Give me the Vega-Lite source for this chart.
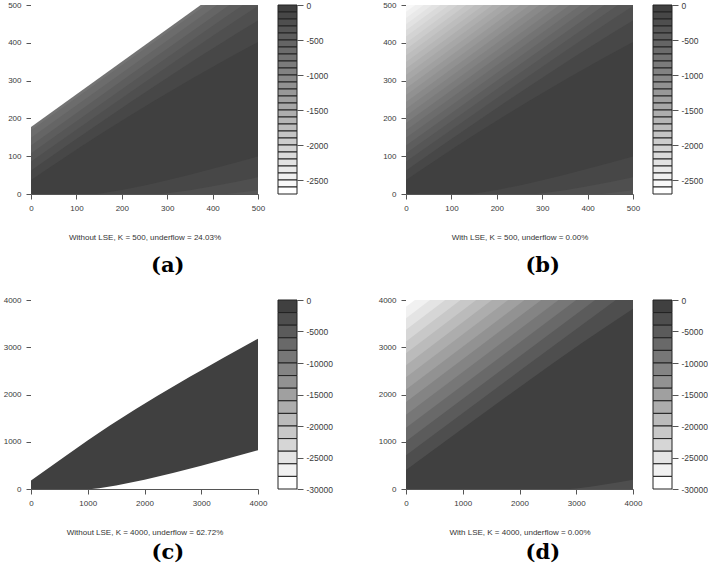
{
"$schema": "https://vega.github.io/schema/vega-lite/v6.json",
"padding": {"left": 3, "top": 1, "right": 0, "bottom": 2},
"background": "white",
"datasets": {
"k500": [
{"t":"u","lv":-100,"x":0,"y":0},{"t":"u","lv":-100,"x":500,"y":0},
{"t":"u","lv":-200,"x":0,"y":37},{"t":"u","lv":-200,"x":44.1,"y":72.7},{"t":"u","lv":-200,"x":112.2,"y":127},{"t":"u","lv":-200,"x":153.1,"y":158.8},{"t":"u","lv":-200,"x":211,"y":202.6},{"t":"u","lv":-200,"x":273.3,"y":248.2},{"t":"u","lv":-200,"x":356.7,"y":306.9},{"t":"u","lv":-200,"x":436.7,"y":361.4},{"t":"u","lv":-200,"x":500,"y":402},
{"t":"u","lv":-300,"x":0,"y":62.5},{"t":"u","lv":-300,"x":84.5,"y":132.9},{"t":"u","lv":-300,"x":153,"y":189.3},{"t":"u","lv":-300,"x":225.1,"y":248},{"t":"u","lv":-300,"x":310.2,"y":315.8},{"t":"u","lv":-300,"x":368.4,"y":361.1},{"t":"u","lv":-300,"x":462.4,"y":432.2},{"t":"u","lv":-300,"x":500,"y":459},
{"t":"u","lv":-400,"x":0,"y":85.7},{"t":"u","lv":-400,"x":75.5,"y":149.5},{"t":"u","lv":-400,"x":181.3,"y":238.3},{"t":"u","lv":-400,"x":251.9,"y":297},{"t":"u","lv":-400,"x":325.6,"y":357.8},{"t":"u","lv":-400,"x":406.1,"y":423.2},{"t":"u","lv":-400,"x":456.7,"y":463.8},{"t":"u","lv":-400,"x":500,"y":497.6},
{"t":"u","lv":-500,"x":0,"y":107.6},{"t":"u","lv":-500,"x":55.3,"y":154.8},{"t":"u","lv":-500,"x":235.9,"y":307.8},{"t":"u","lv":-500,"x":345.5,"y":399.8},{"t":"u","lv":-500,"x":419.3,"y":461.2},{"t":"u","lv":-500,"x":466.8,"y":500},
{"t":"u","lv":-600,"x":0,"y":128.5},{"t":"u","lv":-600,"x":212.1,"y":310},{"t":"u","lv":-600,"x":436.8,"y":500},
{"t":"u","lv":-700,"x":0,"y":148.8},{"t":"u","lv":-700,"x":409.9,"y":500},
{"t":"u","lv":-800,"x":0,"y":168.5},{"t":"u","lv":-800,"x":384.8,"y":500},
{"t":"u","lv":-900,"x":0,"y":187.8},{"t":"u","lv":-900,"x":360.8,"y":500},
{"t":"u","lv":-1000,"x":0,"y":206.7},{"t":"u","lv":-1000,"x":338,"y":500},
{"t":"u","lv":-1100,"x":0,"y":225.3},{"t":"u","lv":-1100,"x":315.8,"y":500},
{"t":"u","lv":-1200,"x":0,"y":243.6},{"t":"u","lv":-1200,"x":293.9,"y":500},
{"t":"u","lv":-1300,"x":0,"y":261.7},{"t":"u","lv":-1300,"x":272.7,"y":500},
{"t":"u","lv":-1400,"x":0,"y":279.6},{"t":"u","lv":-1400,"x":251.5,"y":500},
{"t":"u","lv":-1500,"x":0,"y":297.2},{"t":"u","lv":-1500,"x":231.2,"y":500},
{"t":"u","lv":-1600,"x":0,"y":314.7},{"t":"u","lv":-1600,"x":210.9,"y":500},
{"t":"u","lv":-1700,"x":0,"y":332},{"t":"u","lv":-1700,"x":191,"y":500},
{"t":"u","lv":-1800,"x":0,"y":349.1},{"t":"u","lv":-1800,"x":171.4,"y":500},
{"t":"u","lv":-1900,"x":0,"y":366.1},{"t":"u","lv":-1900,"x":151.8,"y":500},
{"t":"u","lv":-2000,"x":0,"y":383},{"t":"u","lv":-2000,"x":132.6,"y":500},
{"t":"u","lv":-2100,"x":0,"y":399.7},{"t":"u","lv":-2100,"x":113.5,"y":500},
{"t":"u","lv":-2200,"x":0,"y":416.4},{"t":"u","lv":-2200,"x":94.6,"y":500},
{"t":"u","lv":-2300,"x":0,"y":432.9},{"t":"u","lv":-2300,"x":75.9,"y":500},
{"t":"u","lv":-2400,"x":0,"y":449.3},{"t":"u","lv":-2400,"x":57.3,"y":500},
{"t":"u","lv":-2500,"x":0,"y":465.7},{"t":"u","lv":-2500,"x":38.8,"y":500},
{"t":"u","lv":-2600,"x":0,"y":481.9},{"t":"u","lv":-2600,"x":20.6,"y":500},
{"t":"u","lv":-2700,"x":0,"y":498},{"t":"u","lv":-2700,"x":2.3,"y":500},
{"t":"d","lv":-200,"x":142.8,"y":0},{"t":"d","lv":-200,"x":160,"y":2.7},{"t":"d","lv":-200,"x":200,"y":10.7},{"t":"d","lv":-200,"x":250,"y":22.8},{"t":"d","lv":-200,"x":300,"y":36.5},{"t":"d","lv":-200,"x":350,"y":51.1},{"t":"d","lv":-200,"x":400,"y":66.7},{"t":"d","lv":-200,"x":450,"y":82.8},{"t":"d","lv":-200,"x":500,"y":99.5},
{"t":"d","lv":-300,"x":285.7,"y":0},{"t":"d","lv":-300,"x":300,"y":1.8},{"t":"d","lv":-300,"x":350,"y":10},{"t":"d","lv":-300,"x":400,"y":20.3},{"t":"d","lv":-300,"x":450,"y":31.7},{"t":"d","lv":-300,"x":500,"y":44.3},
{"t":"d","lv":-400,"x":430,"y":0},{"t":"d","lv":-400,"x":450,"y":2.4},{"t":"d","lv":-400,"x":500,"y":10.1}
],
"m500": [
{"t":"u","x":0,"y":177.3},{"t":"u","x":373.8,"y":500}
],
"k4000": [
{"t":"u","lv":-2000,"x":0,"y":0},{"t":"u","lv":-2000,"x":4000,"y":0},
{"t":"u","lv":-4000,"x":0,"y":399.7},{"t":"u","lv":-4000,"x":870.8,"y":1167.9},{"t":"u","lv":-4000,"x":1716.2,"y":1907.6},{"t":"u","lv":-4000,"x":2564,"y":2638.6},{"t":"u","lv":-4000,"x":3097.6,"y":3087.5},{"t":"u","lv":-4000,"x":3483.6,"y":3403.2},{"t":"u","lv":-4000,"x":4000,"y":3812.9},
{"t":"u","lv":-6000,"x":0,"y":716.6},{"t":"u","lv":-6000,"x":2044.6,"y":2540.5},{"t":"u","lv":-6000,"x":3696.6,"y":4000},
{"t":"u","lv":-8000,"x":0,"y":1012.6},{"t":"u","lv":-8000,"x":3331.5,"y":4000},
{"t":"u","lv":-10000,"x":0,"y":1296.3},{"t":"u","lv":-10000,"x":2998.4,"y":4000},
{"t":"u","lv":-12000,"x":0,"y":1571.5},{"t":"u","lv":-12000,"x":2687.5,"y":4000},
{"t":"u","lv":-14000,"x":0,"y":1840.3},{"t":"u","lv":-14000,"x":2382.9,"y":4000},
{"t":"u","lv":-16000,"x":0,"y":2103.9},{"t":"u","lv":-16000,"x":2087.5,"y":4000},
{"t":"u","lv":-18000,"x":0,"y":2363.3},{"t":"u","lv":-18000,"x":1799.7,"y":4000},
{"t":"u","lv":-20000,"x":0,"y":2619},{"t":"u","lv":-20000,"x":1514.9,"y":4000},
{"t":"u","lv":-22000,"x":0,"y":2871.6},{"t":"u","lv":-22000,"x":1237.7,"y":4000},
{"t":"u","lv":-24000,"x":0,"y":3121.5},{"t":"u","lv":-24000,"x":961.8,"y":4000},
{"t":"u","lv":-26000,"x":0,"y":3368.8},{"t":"u","lv":-26000,"x":691.3,"y":4000},
{"t":"u","lv":-28000,"x":0,"y":3614},{"t":"u","lv":-28000,"x":421.6,"y":4000},
{"t":"u","lv":-30000,"x":0,"y":3857.2},{"t":"u","lv":-30000,"x":156.2,"y":4000},
{"t":"d","lv":-4000,"x":2884,"y":0},{"t":"d","lv":-4000,"x":3000,"y":13},{"t":"d","lv":-4000,"x":3250,"y":49.7},{"t":"d","lv":-4000,"x":3500,"y":93},{"t":"d","lv":-4000,"x":3750,"y":141.7},{"t":"d","lv":-4000,"x":4000,"y":194}
],
"m4000": [
{"t":"u","x":0,"y":177.3},{"t":"u","x":596.3,"y":690.4},{"t":"u","x":996.8,"y":1027.5},{"t":"u","x":1211.7,"y":1203.3},{"t":"u","x":1389.4,"y":1344.8},{"t":"u","x":1832.8,"y":1683.4},{"t":"u","x":2222,"y":1967.7},{"t":"u","x":2799,"y":2373.8},{"t":"u","x":3051.7,"y":2547.5},{"t":"u","x":3376.6,"y":2767.8},{"t":"u","x":4000,"y":3182},
{"t":"d","x":1073.4,"y":0},{"t":"d","x":1200,"y":17},{"t":"d","x":1500,"y":75},{"t":"d","x":2000,"y":198},{"t":"d","x":2500,"y":338.5},{"t":"d","x":3000,"y":492},{"t":"d","x":3500,"y":653.8},{"t":"d","x":4000,"y":822}
],
"cb500": [
{"lo":-100,"hi":0},{"lo":-200,"hi":-100},{"lo":-300,"hi":-200},{"lo":-400,"hi":-300},{"lo":-500,"hi":-400},{"lo":-600,"hi":-500},{"lo":-700,"hi":-600},{"lo":-800,"hi":-700},{"lo":-900,"hi":-800},{"lo":-1000,"hi":-900},{"lo":-1100,"hi":-1000},{"lo":-1200,"hi":-1100},{"lo":-1300,"hi":-1200},{"lo":-1400,"hi":-1300},{"lo":-1500,"hi":-1400},{"lo":-1600,"hi":-1500},{"lo":-1700,"hi":-1600},{"lo":-1800,"hi":-1700},{"lo":-1900,"hi":-1800},{"lo":-2000,"hi":-1900},{"lo":-2100,"hi":-2000},{"lo":-2200,"hi":-2100},{"lo":-2300,"hi":-2200},{"lo":-2400,"hi":-2300},{"lo":-2500,"hi":-2400},{"lo":-2600,"hi":-2500},{"lo":-2700,"hi":-2600}
],
"cb4000": [
{"lo":-2000,"hi":0},{"lo":-4000,"hi":-2000},{"lo":-6000,"hi":-4000},{"lo":-8000,"hi":-6000},{"lo":-10000,"hi":-8000},{"lo":-12000,"hi":-10000},{"lo":-14000,"hi":-12000},{"lo":-16000,"hi":-14000},{"lo":-18000,"hi":-16000},{"lo":-20000,"hi":-18000},{"lo":-22000,"hi":-20000},{"lo":-24000,"hi":-22000},{"lo":-26000,"hi":-24000},{"lo":-28000,"hi":-26000},{"lo":-30000,"hi":-28000}
]
},
"vconcat": [
{
"hconcat": [
{
"title": {"text": "(a)", "orient": "bottom", "anchor": "middle", "offset": 14},
"hconcat": [
{
"width": 227, "height": 189,
"encoding": {
"x": {"field": "x", "type": "quantitative", "scale": {"domain": [0, 500], "nice": false, "zero": false}, "axis": {"values": [0, 100, 200, 300, 400, 500], "format": "d", "title": "Without LSE, K = 500, underflow = 24.03%", "titlePadding": 21}},
"y": {"field": "y", "type": "quantitative", "scale": {"domain": [0, 500], "nice": false, "zero": false}, "axis": {"values": [0, 100, 200, 300, 400, 500], "format": "d", "title": null}}
},
"layer": [
{"data": {"name": "k500"}, "transform": [{"filter": "datum.t == 'u'"}], "mark": {"type": "area", "clip": true}, "encoding": {"y2": {"datum": 500}, "color": {"field": "lv", "type": "ordinal", "legend": null, "scale": {"domain": [-100,-200,-300,-400,-500,-600,-700,-800,-900,-1000,-1100,-1200,-1300,-1400,-1500,-1600,-1700,-1800,-1900,-2000,-2100,-2200,-2300,-2400,-2500,-2600,-2700], "range": ["#404040","#474747","#4f4f4f","#565656","#5d5d5d","#656565","#6c6c6c","#737373","#7b7b7b","#828282","#898989","#919191","#989898","#a0a0a0","#a7a7a7","#aeaeae","#b6b6b6","#bdbdbd","#c4c4c4","#cccccc","#d3d3d3","#dadada","#e2e2e2","#e9e9e9","#f0f0f0","#f8f8f8","#ffffff"]}}}},
{"data": {"name": "k500"}, "transform": [{"filter": "datum.t == 'd'"}], "mark": {"type": "area", "clip": true}, "encoding": {"y2": {"datum": 0}, "color": {"field": "lv", "type": "ordinal", "legend": null, "scale": {"domain": [-100,-200,-300,-400,-500,-600,-700,-800,-900,-1000,-1100,-1200,-1300,-1400,-1500,-1600,-1700,-1800,-1900,-2000,-2100,-2200,-2300,-2400,-2500,-2600,-2700], "range": ["#404040","#474747","#4f4f4f","#565656","#5d5d5d","#656565","#6c6c6c","#737373","#7b7b7b","#828282","#898989","#919191","#989898","#a0a0a0","#a7a7a7","#aeaeae","#b6b6b6","#bdbdbd","#c4c4c4","#cccccc","#d3d3d3","#dadada","#e2e2e2","#e9e9e9","#f0f0f0","#f8f8f8","#ffffff"]}}}},
{"data": {"name": "m500"}, "transform": [{"filter": "datum.t == 'u'"}], "mark": {"type": "area", "clip": true, "color": "#ffffff"}, "encoding": {"y2": {"datum": 500}}}
]
},
{
"width": 19, "height": 189,
"data": {"name": "cb500"},
"mark": {"type": "rect", "stroke": "#222222", "strokeWidth": 1},
"encoding": {
"x": {"datum": 0, "type": "quantitative", "scale": {"domain": [0, 1]}, "axis": null},
"x2": {"datum": 1},
"y": {"field": "lo", "type": "quantitative", "scale": {"domain": [-2700, 0], "nice": false, "zero": false}, "axis": {"orient": "right", "values": [0, -500, -1000, -1500, -2000, -2500], "title": null, "domain": false, "tickSize": 6, "labelPadding": 3, "labelFontSize": 8.5, "labelExpr": "datum.value == 0 ? '0' : '-' + format(-datum.value, 'd')"}},
"y2": {"field": "hi"},
"color": {"field": "lo", "type": "ordinal", "legend": null, "scale": {"domain": [-100,-200,-300,-400,-500,-600,-700,-800,-900,-1000,-1100,-1200,-1300,-1400,-1500,-1600,-1700,-1800,-1900,-2000,-2100,-2200,-2300,-2400,-2500,-2600,-2700], "range": ["#404040","#474747","#4f4f4f","#565656","#5d5d5d","#656565","#6c6c6c","#737373","#7b7b7b","#828282","#898989","#919191","#989898","#a0a0a0","#a7a7a7","#aeaeae","#b6b6b6","#bdbdbd","#c4c4c4","#cccccc","#d3d3d3","#dadada","#e2e2e2","#e9e9e9","#f0f0f0","#f8f8f8","#ffffff"]}}
}
}
],
"spacing": 20, "bounds": "flush",
"resolve": {"scale": {"x": "independent", "y": "independent", "color": "independent"}}
},
{
"title": {"text": "(b)", "orient": "bottom", "anchor": "middle", "offset": 14},
"hconcat": [
{
"width": 227, "height": 189,
"encoding": {
"x": {"field": "x", "type": "quantitative", "scale": {"domain": [0, 500], "nice": false, "zero": false}, "axis": {"values": [0, 100, 200, 300, 400, 500], "format": "d", "title": "With LSE, K = 500, underflow = 0.00%", "titlePadding": 21}},
"y": {"field": "y", "type": "quantitative", "scale": {"domain": [0, 500], "nice": false, "zero": false}, "axis": {"values": [0, 100, 200, 300, 400, 500], "format": "d", "title": null}}
},
"layer": [
{"data": {"name": "k500"}, "transform": [{"filter": "datum.t == 'u'"}], "mark": {"type": "area", "clip": true}, "encoding": {"y2": {"datum": 500}, "color": {"field": "lv", "type": "ordinal", "legend": null, "scale": {"domain": [-100,-200,-300,-400,-500,-600,-700,-800,-900,-1000,-1100,-1200,-1300,-1400,-1500,-1600,-1700,-1800,-1900,-2000,-2100,-2200,-2300,-2400,-2500,-2600,-2700], "range": ["#404040","#474747","#4f4f4f","#565656","#5d5d5d","#656565","#6c6c6c","#737373","#7b7b7b","#828282","#898989","#919191","#989898","#a0a0a0","#a7a7a7","#aeaeae","#b6b6b6","#bdbdbd","#c4c4c4","#cccccc","#d3d3d3","#dadada","#e2e2e2","#e9e9e9","#f0f0f0","#f8f8f8","#ffffff"]}}}},
{"data": {"name": "k500"}, "transform": [{"filter": "datum.t == 'd'"}], "mark": {"type": "area", "clip": true}, "encoding": {"y2": {"datum": 0}, "color": {"field": "lv", "type": "ordinal", "legend": null, "scale": {"domain": [-100,-200,-300,-400,-500,-600,-700,-800,-900,-1000,-1100,-1200,-1300,-1400,-1500,-1600,-1700,-1800,-1900,-2000,-2100,-2200,-2300,-2400,-2500,-2600,-2700], "range": ["#404040","#474747","#4f4f4f","#565656","#5d5d5d","#656565","#6c6c6c","#737373","#7b7b7b","#828282","#898989","#919191","#989898","#a0a0a0","#a7a7a7","#aeaeae","#b6b6b6","#bdbdbd","#c4c4c4","#cccccc","#d3d3d3","#dadada","#e2e2e2","#e9e9e9","#f0f0f0","#f8f8f8","#ffffff"]}}}}
]
},
{
"width": 19, "height": 189,
"data": {"name": "cb500"},
"mark": {"type": "rect", "stroke": "#222222", "strokeWidth": 1},
"encoding": {
"x": {"datum": 0, "type": "quantitative", "scale": {"domain": [0, 1]}, "axis": null},
"x2": {"datum": 1},
"y": {"field": "lo", "type": "quantitative", "scale": {"domain": [-2700, 0], "nice": false, "zero": false}, "axis": {"orient": "right", "values": [0, -500, -1000, -1500, -2000, -2500], "title": null, "domain": false, "tickSize": 6, "labelPadding": 3, "labelFontSize": 8.5, "labelExpr": "datum.value == 0 ? '0' : '-' + format(-datum.value, 'd')"}},
"y2": {"field": "hi"},
"color": {"field": "lo", "type": "ordinal", "legend": null, "scale": {"domain": [-100,-200,-300,-400,-500,-600,-700,-800,-900,-1000,-1100,-1200,-1300,-1400,-1500,-1600,-1700,-1800,-1900,-2000,-2100,-2200,-2300,-2400,-2500,-2600,-2700], "range": ["#404040","#474747","#4f4f4f","#565656","#5d5d5d","#656565","#6c6c6c","#737373","#7b7b7b","#828282","#898989","#919191","#989898","#a0a0a0","#a7a7a7","#aeaeae","#b6b6b6","#bdbdbd","#c4c4c4","#cccccc","#d3d3d3","#dadada","#e2e2e2","#e9e9e9","#f0f0f0","#f8f8f8","#ffffff"]}}
}
}
],
"spacing": 20, "bounds": "flush",
"resolve": {"scale": {"x": "independent", "y": "independent", "color": "independent"}}
}
],
"spacing": 54, "bounds": "full",
"resolve": {"scale": {"x": "independent", "y": "independent", "color": "independent"}}
},
{
"hconcat": [
{
"title": {"text": "(c)", "orient": "bottom", "anchor": "middle", "offset": 6},
"hconcat": [
{
"width": 227, "height": 189,
"encoding": {
"x": {"field": "x", "type": "quantitative", "scale": {"domain": [0, 4000], "nice": false, "zero": false}, "axis": {"values": [0, 1000, 2000, 3000, 4000], "format": "d", "title": "Without LSE, K = 4000, underflow = 62.72%", "titlePadding": 21}},
"y": {"field": "y", "type": "quantitative", "scale": {"domain": [0, 4000], "nice": false, "zero": false}, "axis": {"values": [0, 1000, 2000, 3000, 4000], "format": "d", "title": null}}
},
"layer": [
{"data": {"name": "k4000"}, "transform": [{"filter": "datum.t == 'u'"}], "mark": {"type": "area", "clip": true}, "encoding": {"y2": {"datum": 4000}, "color": {"field": "lv", "type": "ordinal", "legend": null, "scale": {"domain": [-2000,-4000,-6000,-8000,-10000,-12000,-14000,-16000,-18000,-20000,-22000,-24000,-26000,-28000,-30000], "range": ["#404040","#4e4e4e","#5b5b5b","#696969","#777777","#848484","#929292","#a0a0a0","#adadad","#bbbbbb","#c8c8c8","#d6d6d6","#e4e4e4","#f1f1f1","#ffffff"]}}}},
{"data": {"name": "k4000"}, "transform": [{"filter": "datum.t == 'd'"}], "mark": {"type": "area", "clip": true}, "encoding": {"y2": {"datum": 0}, "color": {"field": "lv", "type": "ordinal", "legend": null, "scale": {"domain": [-2000,-4000,-6000,-8000,-10000,-12000,-14000,-16000,-18000,-20000,-22000,-24000,-26000,-28000,-30000], "range": ["#404040","#4e4e4e","#5b5b5b","#696969","#777777","#848484","#929292","#a0a0a0","#adadad","#bbbbbb","#c8c8c8","#d6d6d6","#e4e4e4","#f1f1f1","#ffffff"]}}}},
{"data": {"name": "m4000"}, "transform": [{"filter": "datum.t == 'u'"}], "mark": {"type": "area", "clip": true, "color": "#ffffff"}, "encoding": {"y2": {"datum": 4000}}},
{"data": {"name": "m4000"}, "transform": [{"filter": "datum.t == 'd'"}], "mark": {"type": "area", "clip": true, "color": "#ffffff"}, "encoding": {"y2": {"datum": 0}}}
]
},
{
"width": 19, "height": 189,
"data": {"name": "cb4000"},
"mark": {"type": "rect", "stroke": "#222222", "strokeWidth": 1},
"encoding": {
"x": {"datum": 0, "type": "quantitative", "scale": {"domain": [0, 1]}, "axis": null},
"x2": {"datum": 1},
"y": {"field": "lo", "type": "quantitative", "scale": {"domain": [-30000, 0], "nice": false, "zero": false}, "axis": {"orient": "right", "values": [0, -5000, -10000, -15000, -20000, -25000, -30000], "title": null, "domain": false, "tickSize": 6, "labelPadding": 3, "labelFontSize": 8.5, "labelExpr": "datum.value == 0 ? '0' : '-' + format(-datum.value, 'd')"}},
"y2": {"field": "hi"},
"color": {"field": "lo", "type": "ordinal", "legend": null, "scale": {"domain": [-2000,-4000,-6000,-8000,-10000,-12000,-14000,-16000,-18000,-20000,-22000,-24000,-26000,-28000,-30000], "range": ["#404040","#4e4e4e","#5b5b5b","#696969","#777777","#848484","#929292","#a0a0a0","#adadad","#bbbbbb","#c8c8c8","#d6d6d6","#e4e4e4","#f1f1f1","#ffffff"]}}
}
}
],
"spacing": 20, "bounds": "flush",
"resolve": {"scale": {"x": "independent", "y": "independent", "color": "independent"}}
},
{
"title": {"text": "(d)", "orient": "bottom", "anchor": "middle", "offset": 6},
"hconcat": [
{
"width": 227, "height": 189,
"encoding": {
"x": {"field": "x", "type": "quantitative", "scale": {"domain": [0, 4000], "nice": false, "zero": false}, "axis": {"values": [0, 1000, 2000, 3000, 4000], "format": "d", "title": "With LSE, K = 4000, underflow = 0.00%", "titlePadding": 21}},
"y": {"field": "y", "type": "quantitative", "scale": {"domain": [0, 4000], "nice": false, "zero": false}, "axis": {"values": [0, 1000, 2000, 3000, 4000], "format": "d", "title": null}}
},
"layer": [
{"data": {"name": "k4000"}, "transform": [{"filter": "datum.t == 'u'"}], "mark": {"type": "area", "clip": true}, "encoding": {"y2": {"datum": 4000}, "color": {"field": "lv", "type": "ordinal", "legend": null, "scale": {"domain": [-2000,-4000,-6000,-8000,-10000,-12000,-14000,-16000,-18000,-20000,-22000,-24000,-26000,-28000,-30000], "range": ["#404040","#4e4e4e","#5b5b5b","#696969","#777777","#848484","#929292","#a0a0a0","#adadad","#bbbbbb","#c8c8c8","#d6d6d6","#e4e4e4","#f1f1f1","#ffffff"]}}}},
{"data": {"name": "k4000"}, "transform": [{"filter": "datum.t == 'd'"}], "mark": {"type": "area", "clip": true}, "encoding": {"y2": {"datum": 0}, "color": {"field": "lv", "type": "ordinal", "legend": null, "scale": {"domain": [-2000,-4000,-6000,-8000,-10000,-12000,-14000,-16000,-18000,-20000,-22000,-24000,-26000,-28000,-30000], "range": ["#404040","#4e4e4e","#5b5b5b","#696969","#777777","#848484","#929292","#a0a0a0","#adadad","#bbbbbb","#c8c8c8","#d6d6d6","#e4e4e4","#f1f1f1","#ffffff"]}}}}
]
},
{
"width": 19, "height": 189,
"data": {"name": "cb4000"},
"mark": {"type": "rect", "stroke": "#222222", "strokeWidth": 1},
"encoding": {
"x": {"datum": 0, "type": "quantitative", "scale": {"domain": [0, 1]}, "axis": null},
"x2": {"datum": 1},
"y": {"field": "lo", "type": "quantitative", "scale": {"domain": [-30000, 0], "nice": false, "zero": false}, "axis": {"orient": "right", "values": [0, -5000, -10000, -15000, -20000, -25000, -30000], "title": null, "domain": false, "tickSize": 6, "labelPadding": 3, "labelFontSize": 8.5, "labelExpr": "datum.value == 0 ? '0' : '-' + format(-datum.value, 'd')"}},
"y2": {"field": "hi"},
"color": {"field": "lo", "type": "ordinal", "legend": null, "scale": {"domain": [-2000,-4000,-6000,-8000,-10000,-12000,-14000,-16000,-18000,-20000,-22000,-24000,-26000,-28000,-30000], "range": ["#404040","#4e4e4e","#5b5b5b","#696969","#777777","#848484","#929292","#a0a0a0","#adadad","#bbbbbb","#c8c8c8","#d6d6d6","#e4e4e4","#f1f1f1","#ffffff"]}}
}
}
],
"spacing": 20, "bounds": "flush",
"resolve": {"scale": {"x": "independent", "y": "independent", "color": "independent"}}
}
],
"spacing": 45, "bounds": "full",
"resolve": {"scale": {"x": "independent", "y": "independent", "color": "independent"}}
}
],
"spacing": 20, "bounds": "full",
"resolve": {"scale": {"x": "independent", "y": "independent", "color": "independent"}},
"config": {
"view": {"stroke": null},
"axis": {"grid": false, "labelFont": "Liberation Sans", "labelFontSize": 8, "labelColor": "#3a3a3a", "tickColor": "#555555", "domainColor": "#555555", "tickSize": 5, "labelPadding": 5, "titleFont": "Liberation Sans", "titleFontSize": 8, "titleFontWeight": "normal", "titleColor": "#333333", "labelFlush": false, "labelOverlap": false},
"title": {"font": "DejaVu Serif", "fontWeight": "bold", "fontSize": 21, "color": "#000000"}
}
}
